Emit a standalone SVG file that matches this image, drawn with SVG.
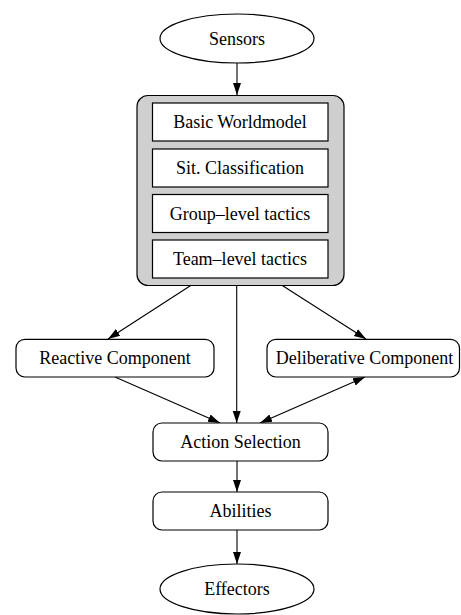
<svg xmlns="http://www.w3.org/2000/svg" width="461" height="615" viewBox="0 0 461 615">
  <style>
    .shape { fill: #ffffff; stroke: #000000; stroke-width: 1.2; }
    .group { fill: #cfcfcf; stroke: #000000; stroke-width: 1.2; }
    .label { font-family: 'Liberation Serif', 'Times New Roman', 'DejaVu Serif', serif; font-size: 18px; fill: #000000; text-anchor: middle; }
    .edge { fill: none; stroke: #000000; stroke-width: 1.1; }
  </style>
  <defs>
    <marker id="arrow" viewBox="0 0 12 10" refX="12" refY="5" markerWidth="12" markerHeight="10" markerUnits="userSpaceOnUse" orient="auto-start-reverse">
      <path d="M0,1 L12,5 L0,9 Z" fill="#000000"/>
    </marker>
  </defs>

  <!-- connectors -->
  <g id="edges">
    <line class="edge" x1="237" y1="63" x2="237" y2="95" marker-end="url(#arrow)"/>
    <line class="edge" x1="190.7" y1="285.5" x2="108" y2="339" marker-end="url(#arrow)"/>
    <line class="edge" x1="236.7" y1="285.5" x2="236.7" y2="423" marker-end="url(#arrow)"/>
    <line class="edge" x1="282.3" y1="285.5" x2="366" y2="339" marker-end="url(#arrow)"/>
    <line class="edge" x1="115" y1="377" x2="220" y2="423" marker-end="url(#arrow)"/>
    <line class="edge" x1="365" y1="377" x2="260" y2="423" marker-start="url(#arrow)" marker-end="url(#arrow)"/>
    <line class="edge" x1="237" y1="461" x2="237" y2="492" marker-end="url(#arrow)"/>
    <line class="edge" x1="237" y1="530" x2="237" y2="564" marker-end="url(#arrow)"/>
  </g>

  <g id="sensors">
    <ellipse class="shape" cx="237" cy="38.5" rx="77" ry="24.5"/>
    <text class="label" x="237" y="44.5" font-family="Liberation Serif, serif">Sensors</text>
  </g>

  <g id="worldmodel-stack">
    <rect class="group" x="137" y="95.5" width="207" height="190" rx="11" ry="11"/>
    <g id="basic-worldmodel">
      <rect class="shape" x="152.5" y="103" width="175.5" height="38"/>
      <text class="label" x="240" y="128">Basic Worldmodel</text>
    </g>
    <g id="sit-classification">
      <rect class="shape" x="152.5" y="149" width="175.5" height="38"/>
      <text class="label" x="240" y="174">Sit. Classification</text>
    </g>
    <g id="group-level-tactics">
      <rect class="shape" x="152.5" y="194.5" width="175.5" height="38"/>
      <text class="label" x="240" y="219.5">Group–level tactics</text>
    </g>
    <g id="team-level-tactics">
      <rect class="shape" x="152.5" y="240" width="175.5" height="38"/>
      <text class="label" x="240" y="265">Team–level tactics</text>
    </g>
  </g>

  <g id="reactive">
    <rect class="shape" x="16" y="339.3" width="198" height="37.7" rx="9" ry="9"/>
    <text class="label" x="115" y="364">Reactive Component</text>
  </g>

  <g id="deliberative">
    <rect class="shape" x="267" y="339.3" width="192.5" height="37.7" rx="9" ry="9"/>
    <text class="label" x="364.5" y="364">Deliberative Component</text>
  </g>

  <g id="action-selection">
    <rect class="shape" x="153" y="423" width="175" height="38" rx="9" ry="9"/>
    <text class="label" x="240.5" y="448">Action Selection</text>
  </g>

  <g id="abilities">
    <rect class="shape" x="153" y="492" width="175" height="38" rx="9" ry="9"/>
    <text class="label" x="240.5" y="517">Abilities</text>
  </g>

  <g id="effectors">
    <ellipse class="shape" cx="237" cy="589" rx="77" ry="25"/>
    <text class="label" x="237" y="595">Effectors</text>
  </g>
</svg>
